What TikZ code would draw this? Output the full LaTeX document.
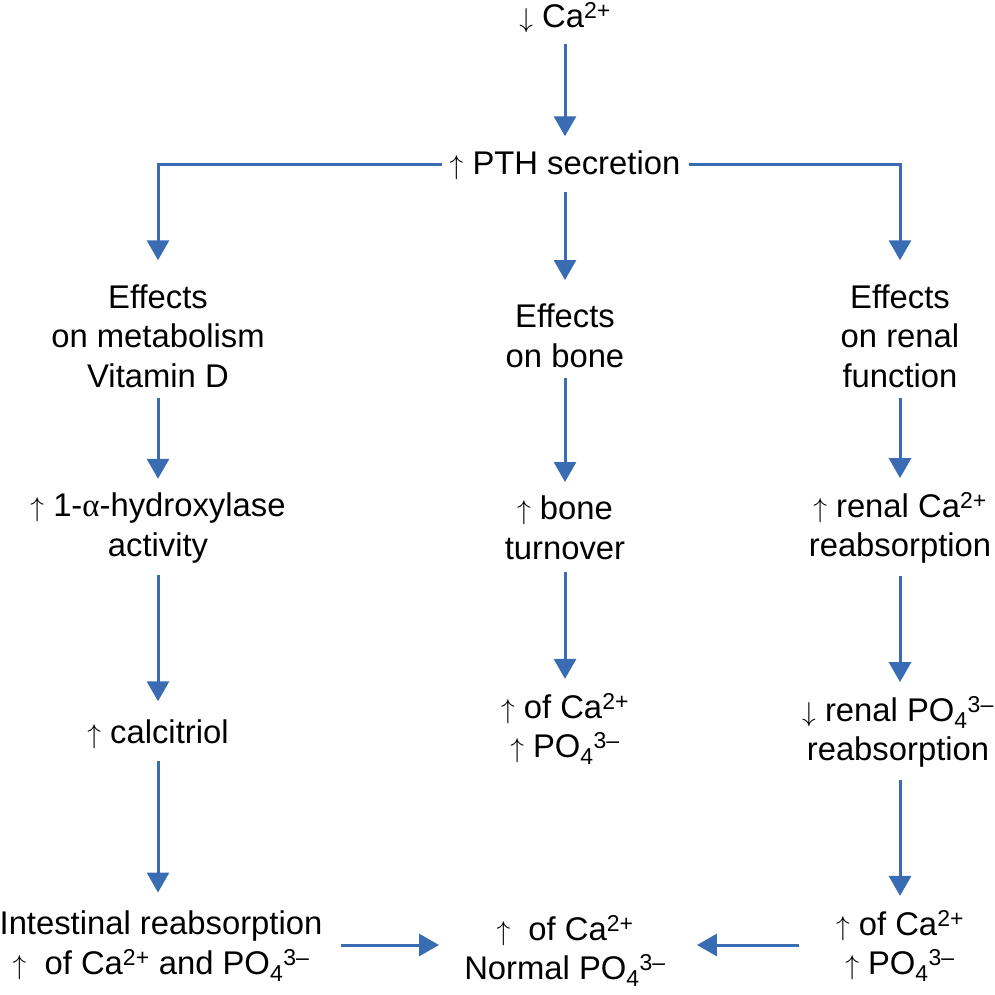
\documentclass[tikz,border=0pt]{standalone}
\usepackage{fontspec}
\setmainfont{Liberation Sans}
\newfontfamily\grkfont{Liberation Serif}
\usetikzlibrary{arrows.meta}
\definecolor{arrowblue}{HTML}{3A6CB4}
\newcommand{\upA}{\scalebox{1.1}{$\uparrow$}}
\newcommand{\dnA}{\scalebox{1.1}{$\downarrow$}}
\newcommand{\Caion}{Ca\textsuperscript{2+}}
\newcommand{\POion}{PO\textsubscript{4}\textsuperscript{3--}}
\tikzset{
  lbl/.style={inner sep=0pt, align=center, font=\fontsize{32.8}{39.5}\selectfont},
  arr/.style={draw=arrowblue, line width=3pt, -{Triangle[width=22pt,length=20pt]}},
}
\begin{document}
\begin{tikzpicture}[x=1pt,y=-1pt]
\useasboundingbox (0,0) rectangle (994,995);
\node[lbl] (ca) at (565,18) {\dnA\ \Caion};
\node[lbl] (pth) at (565,165) {\upA\ PTH secretion};
\node[lbl] (eff1) at (158,336) {Effects\\on metabolism\\Vitamin D};
\node[lbl] (eff2) at (565,336) {Effects\\on bone};
\node[lbl] (eff3) at (900,336) {Effects\\on renal\\function};
\node[lbl] (hyd) at (158,528) {\upA\ 1-{\grkfont α}-hydroxylase\\activity};
\node[lbl] (bone) at (565,528) {\upA\ bone\\turnover};
\node[lbl] (ren1) at (900,528) {\upA\ renal \Caion\\reabsorption};
\node[lbl] (calc) at (158,734) {\upA\ calcitriol};
\node[lbl] (ofca) at (565,729) {\upA\ of \Caion\\\upA\ \POion};
\node[lbl] (ren2) at (898,732) {\dnA\ renal \POion\\reabsorption};
\node[lbl] (int) at (161,946) {Intestinal reabsorption\\\upA\ \ of \Caion\ and \POion};
\node[lbl] (norm) at (565,951) {\upA\ \ of \Caion\\Normal \POion};
\node[lbl] (fin) at (900,946) {\upA\ of \Caion\\\upA\ \POion};

\draw[arr, shorten <=11pt, shorten >=14pt] (ca) -- (pth);
\draw[arr, shorten <=8pt, shorten >=24pt] (pth.west) -| (eff1.north);
\draw[arr, shorten <=8pt, shorten >=24pt] (pth.east) -| (eff3.north);
\draw[arr, shorten <=12pt, shorten >=24pt] (pth) -- (eff2);
\draw[arr, shorten <=10pt, shorten >=14pt] (eff1) -- (hyd);
\draw[arr, shorten <=10pt, shorten >=14pt] (eff2) -- (bone);
\draw[arr, shorten <=10pt, shorten >=14pt] (eff3) -- (ren1);
\draw[arr, shorten <=12pt, shorten >=18pt] (hyd) -- (calc);
\draw[arr, shorten <=12pt, shorten >=14pt] (bone) -- (ofca);
\draw[arr, shorten <=12pt, shorten >=14pt] (ren1) -- (ren1 |- ren2.north);
\draw[arr, shorten <=12pt, shorten >=18pt] (calc) -- (calc |- int.north);
\draw[arr, shorten <=12pt, shorten >=14pt] (fin |- ren2.south) -- (fin);
\draw[arr, shorten <=18pt, shorten >=25pt] (int.east |- 0,945) -- (norm.west |- 0,945);
\draw[arr, shorten <=37pt, shorten >=31pt] (fin.west |- 0,945) -- (norm.east |- 0,945);
\end{tikzpicture}
\end{document}
